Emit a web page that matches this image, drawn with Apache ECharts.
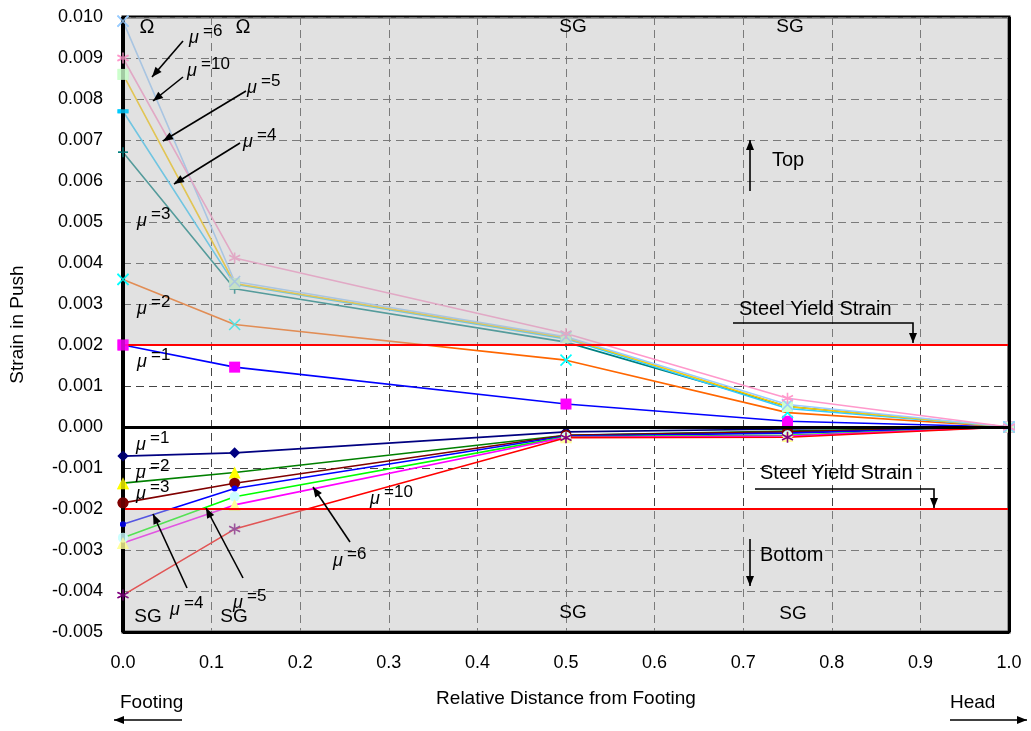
<!DOCTYPE html>
<html>
<head>
<meta charset="utf-8">
<script src="https://cdn.jsdelivr.net/npm/echarts@6/dist/echarts.min.js"></script>
<style>
  html, body { margin: 0; padding: 0; background: #fff; }
  #chart { width: 1031px; height: 731px; }
</style>
</head>
<body>
<div id="chart"></div>
<script>
// gauge positions along the column (relative distance from footing)
const xPos = [0, 0.126, 0.5, 0.75, 1.0];

// top fibre strains, one array per ductility level
const topMu1 = [0.0020, 0.00146, 0.00056, 0.00014, 0];
const topMu2 = [0.0036, 0.0025, 0.00163, 0.00035, 0];
const topMu3 = [0.0067, 0.00337, 0.00207, 0.0005, 0];
const topMu4 = [0.0077, 0.00348, 0.00215, 0.00045, 0];
const topMu5 = [0.0086, 0.0035, 0.00218, 0.0005, 0];
const topMu6 = [0.0099, 0.00355, 0.0022, 0.00055, 0];
const topMu10 = [0.0090, 0.00412, 0.00228, 0.0007, 0];

// bottom fibre strains
const botMu1 = [-0.00071, -0.00063, -0.00012, -0.00005, 0];
const botMu2 = [-0.00137, -0.00111, -0.0002, -0.0001, 0];
const botMu3 = [-0.00185, -0.00137, -0.0002, -0.00012, 0];
const botMu4 = [-0.00237, -0.0015, -0.00022, -0.00015, 0];
const botMu5 = [-0.0027, -0.0017, -0.00024, -0.0002, 0];
const botMu6 = [-0.00283, -0.0019, -0.00025, -0.00022, 0];
const botMu10 = [-0.0041, -0.00249, -0.00026, -0.00025, 0];

const yieldStrain = 0.002;
const yMin = -0.005, yMax = 0.010, yStep = 0.001;
const xMin = 0, xMax = 1, xStep = 0.1;

const FONT = '"Liberation Sans", Arial, sans-serif';

// marker shapes that echarts does not ship
const SYM_X = 'path://M0,0L10,10M10,0L0,10';
const SYM_PLUS = 'path://M5,0L5,10M0,5L10,5';
const SYM_STAR = 'path://M5,0L5,10M0.7,2.5L9.3,7.5M9.3,2.5L0.7,7.5';

const lines = [
  { data: botMu1, line: '#000080', mark: '#000080', symbol: 'diamond', size: 11 },
  { data: botMu2, line: '#008000', mark: '#ffff00', symbol: 'triangle', size: 12 },
  { data: botMu3, line: '#800000', mark: '#800000', symbol: 'circle', size: 11 },
  { data: botMu4, line: '#0000ff', mark: '#0000ff', symbol: 'circle', size: 6 },
  { data: botMu5, line: '#00ff00', mark: '#ccffff', symbol: 'circle', size: 10 },
  { data: botMu6, line: '#ff00ff', mark: '#ffff99', symbol: 'triangle', size: 12 },
  { data: botMu10, line: '#ff0000', mark: '#800080', symbol: SYM_STAR, size: 11, stroke: true },
  { data: topMu1, line: '#0000ff', mark: '#ff00ff', symbol: 'rect', size: 11 },
  { data: topMu2, line: '#ff6600', mark: '#00ffff', symbol: SYM_X, size: 11, stroke: true },
  { data: topMu3, line: '#008080', mark: '#008080', symbol: SYM_PLUS, size: 10, stroke: true },
  { data: topMu4, line: '#33ccff', mark: '#00ccff', symbol: 'rect', size: [11, 4] },
  { data: topMu5, line: '#ffcc00', mark: '#ccffcc', symbol: 'rect', size: 11 },
  { data: topMu6, line: '#99ccff', mark: '#99ccff', symbol: SYM_X, size: 11, stroke: true },
  { data: topMu10, line: '#ff99cc', mark: '#ff99cc', symbol: SYM_STAR, size: 11, stroke: true },
];

function markStyle(s) {
  return s.stroke
    ? { color: s.mark, borderColor: s.mark, borderWidth: 1.6 }
    : { color: s.mark, borderWidth: 0 };
}

const series = lines.map((s) => ({
  type: 'line',
  z: 2,
  data: s.data.map((v, i) => [xPos[i], v]),
  symbol: s.symbol,
  symbolSize: s.size,
  showAllSymbol: true,
  lineStyle: { color: s.line, width: 1.6 },
  itemStyle: markStyle(s),
  emphasis: { disabled: true },
  animation: false,
}));

// translucent grey over the yielded zones (drawn above the lines like the original)
series.push({
  type: 'line',
  data: [],
  z: 3,
  silent: true,
  markArea: {
    z: 3,
    silent: true,
    itemStyle: { color: 'rgba(188,188,188,0.45)' },
    data: [
      [{ yAxis: yieldStrain }, { yAxis: yMax }],
      [{ yAxis: yMin }, { yAxis: -yieldStrain }],
    ],
  },
  animation: false,
});

// zero line, yield lines and the frame
series.push({
  type: 'line',
  data: [],
  z: 4,
  silent: true,
  markLine: {
    z: 4,
    silent: true,
    precision: 6,
    symbol: ['none', 'none'],
    label: { show: false },
    animation: false,
    data: [
      { yAxis: 0, lineStyle: { color: '#000', width: 3, type: 'solid' } },
      { yAxis: yieldStrain, lineStyle: { color: '#ff0000', width: 2, type: 'solid' } },
      { yAxis: -yieldStrain, lineStyle: { color: '#ff0000', width: 2, type: 'solid' } },
      { yAxis: yMin, lineStyle: { color: '#000', width: 3, type: 'solid' } },
      { xAxis: xMin, lineStyle: { color: '#000', width: 4, type: 'solid' } },
      { xAxis: xMax, lineStyle: { color: '#000', width: 3, type: 'solid' } },
    ],
  },
  animation: false,
});

// the markers sitting on the left axis are drawn over it
lines.forEach((s) => {
  series.push({
    type: 'scatter',
    z: 5,
    data: [[xPos[0], s.data[0]]],
    symbol: s.symbol,
    symbolSize: s.size,
    itemStyle: markStyle(s),
    emphasis: { disabled: true },
    silent: true,
    animation: false,
  });
});

// ---- annotations (pixel positions) ----
function txt(x, y, s, size, opts) {
  opts = opts || {};
  const align = opts.align || 'left';
  return {
    type: 'text', x: x, y: y, z: 100, silent: true,
    style: {
      text: s, fill: '#000',
      font: (opts.italic ? 'italic ' : '') + size + 'px ' + FONT,
      textAlign: align, align: align,
      textVerticalAlign: 'middle', verticalAlign: 'middle',
    },
  };
}

function head(x1, y1, x2, y2) {
  const a = Math.atan2(y2 - y1, x2 - x1), L = 10, W = 4;
  const bx = x2 - L * Math.cos(a), by = y2 - L * Math.sin(a);
  return {
    type: 'polygon', z: 100, silent: true,
    shape: { points: [[x2, y2], [bx + W * Math.sin(a), by - W * Math.cos(a)], [bx - W * Math.sin(a), by + W * Math.cos(a)]] },
    style: { fill: '#000' },
  };
}

function arrow(pts) {
  const n = pts.length;
  return [
    { type: 'polyline', z: 100, silent: true, shape: { points: pts }, style: { stroke: '#000', lineWidth: 1.6, fill: null } },
    head(pts[n - 2][0], pts[n - 2][1], pts[n - 1][0], pts[n - 1][1]),
  ];
}

function mu(x, y, n) {
  return [txt(x, y, 'μ', 18, { italic: true }), txt(x + 14, y - 7, '=' + n, 17)];
}

const graphics = [].concat(
  txt(147, 27, 'Ω', 20, { align: 'center' }),
  txt(243, 27, 'Ω', 20, { align: 'center' }),
  txt(573, 27, 'SG', 19, { align: 'center' }),
  txt(790, 27, 'SG', 19, { align: 'center' }),
  txt(148, 617, 'SG', 19, { align: 'center' }),
  txt(234, 617, 'SG', 19, { align: 'center' }),
  txt(573, 613, 'SG', 19, { align: 'center' }),
  txt(793, 614, 'SG', 19, { align: 'center' }),
  mu(189, 38, 6), arrow([[183, 41], [152, 77]]),
  mu(187, 71, 10), arrow([[183, 77], [153, 101]]),
  mu(247, 88, 5), arrow([[246, 91], [163, 141]]),
  mu(243, 142, 4), arrow([[240, 143], [174, 184]]),
  mu(137, 221, 3),
  mu(137, 309, 2),
  mu(137, 362, 1),
  mu(136, 445, 1),
  mu(136, 473, 2),
  mu(136, 494, 3),
  mu(170, 610, 4), arrow([[187, 588], [153, 514]]),
  mu(233, 603, 5), arrow([[243, 578], [206, 508]]),
  mu(333, 561, 6), arrow([[350, 542], [313, 487]]),
  mu(370, 499, 10),
  arrow([[750, 191], [750, 140]]), txt(772, 160, 'Top', 20),
  arrow([[750, 539], [750, 586]]), txt(760, 555, 'Bottom', 20),
  txt(739, 309, 'Steel Yield Strain', 20),
  arrow([[733, 323], [913, 323], [913, 343]]),
  txt(760, 473, 'Steel Yield Strain', 20),
  arrow([[755, 489], [934, 489], [934, 508]]),
  txt(120, 703, 'Footing', 19),
  arrow([[182, 720], [114, 720]]),
  txt(950, 703, 'Head', 19),
  arrow([[950, 720], [1027, 720]])
);

const chart = echarts.init(document.getElementById('chart'), null, { renderer: 'canvas' });
chart.setOption({
  backgroundColor: '#fff',
  animation: false,
  textStyle: { fontFamily: FONT },
  grid: {
    left: 123, top: 17, width: 886, height: 615,
    show: true, borderColor: '#000', borderWidth: 3, backgroundColor: '#fff',
  },
  xAxis: {
    type: 'value', min: xMin, max: xMax, interval: xStep,
    name: 'Relative Distance from Footing', nameLocation: 'middle', nameGap: 57,
    nameTextStyle: { fontSize: 19, color: '#000', fontFamily: FONT },
    axisLine: { show: false },
    axisTick: { show: false },
    axisLabel: { fontSize: 18, color: '#000', margin: 22, formatter: (v) => v.toFixed(1), fontFamily: FONT },
    splitLine: { show: true, lineStyle: { color: '#444', width: 1, type: [8, 5] } },
  },
  yAxis: {
    type: 'value', min: yMin, max: yMax, interval: yStep,
    name: 'Strain in Push', nameLocation: 'middle', nameGap: 96,
    nameTextStyle: { fontSize: 19, color: '#000', fontFamily: FONT },
    axisLine: { show: false },
    axisTick: { show: false },
    axisLabel: { fontSize: 18, color: '#000', margin: 20, formatter: (v) => v.toFixed(3), fontFamily: FONT },
    splitLine: { show: true, lineStyle: { color: '#444', width: 1, type: [8, 5] } },
  },
  series: series,
  graphic: { elements: graphics },
});
</script>
</body>
</html>
